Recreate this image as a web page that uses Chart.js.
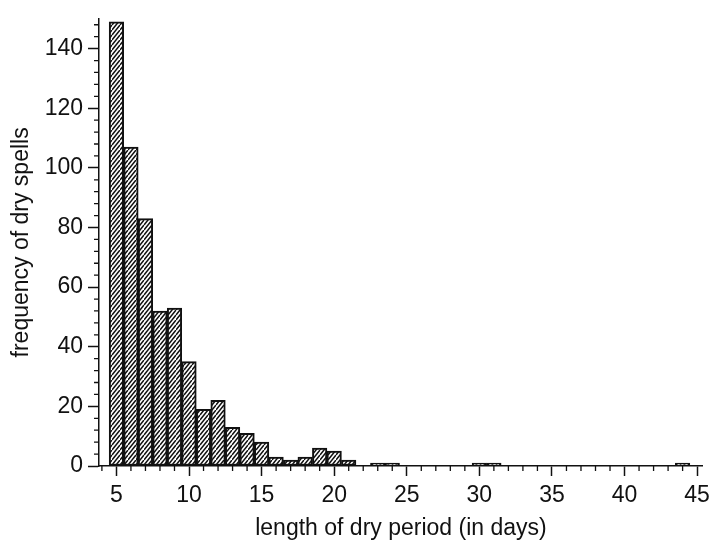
<!DOCTYPE html>
<html>
<head>
<meta charset="utf-8">
<script src="https://cdn.jsdelivr.net/npm/chart.js@4/dist/chart.umd.min.js"></script>
<style>
  html, body { margin: 0; padding: 0; background: #fff; }
  #wrap { width: 716px; height: 542px; }
</style>
</head>
<body>
<div id="wrap"><canvas id="histChart" width="716" height="542"></canvas></div>
<script>
// ==========================
// Data
// ==========================
const LENGTHS = [5, 6, 7, 8, 9, 10, 11, 12, 13, 14, 15, 16, 17, 18, 19, 20, 21, 22, 23, 24,
                 25, 26, 27, 28, 29, 30, 31, 32, 33, 34, 35, 36, 37, 38, 39, 40, 41, 42, 43, 44];
const FREQUENCIES = [149, 107, 83, 52, 53, 35, 19, 22, 13, 11, 8, 3, 2, 3, 6, 5, 2, 0, 1, 1,
                     0, 0, 0, 0, 0, 1, 1, 0, 0, 0, 0, 0, 0, 0, 0, 0, 0, 0, 0, 1];
const X_TICKS = [5, 10, 15, 20, 25, 30, 35, 40, 45];
const Y_TICKS = [0, 20, 40, 60, 80, 100, 120, 140];

const INK = "#111";
const FONT = { family: "'Liberation Sans', Arial, Helvetica, sans-serif", size: 23 };

// ==========================
// Hatch pattern "////"
// ==========================
function makeHatch() {
  const c = document.createElement("canvas");
  c.width = 8; c.height = 10;
  const g = c.getContext("2d");
  g.fillStyle = "#fff";
  g.fillRect(0, 0, 8, 10);
  g.strokeStyle = INK;
  g.lineWidth = 1.5;
  g.beginPath();
  [0, 5, 10, 15].forEach(k => { g.moveTo(0, k); g.lineTo(8, k - 10); });
  g.stroke();
  return g.createPattern(c, "repeat");
}

// minor ticks are not built into Chart.js, draw them from the scales
const minorTicks = {
  id: "minorTicks",
  afterDraw(chart) {
    const { ctx, scales: { x, y } } = chart;
    ctx.save();
    ctx.strokeStyle = INK;
    ctx.lineWidth = 1.3;
    ctx.beginPath();
    for (let v = 4; v <= 45; v++) {
      if (v % 5 === 0) continue;
      const px = x.getPixelForValue(v);
      ctx.moveTo(px, x.top);
      ctx.lineTo(px, x.top + 5);
    }
    for (let v = 4; v < 150; v += 4) {
      if (v % 20 === 0) continue;
      const py = y.getPixelForValue(v);
      ctx.moveTo(y.right, py);
      ctx.lineTo(y.right - 5, py);
    }
    ctx.stroke();
    ctx.restore();
  }
};

const ctx = document.getElementById("histChart").getContext("2d");
new Chart(ctx, {
  type: "bar",
  data: {
    datasets: [{
      data: LENGTHS.map((len, i) => ({ x: len, y: FREQUENCIES[i] })),
      backgroundColor: makeHatch(),
      borderColor: INK,
      borderWidth: 2,
      borderSkipped: false,
      barPercentage: 1,
      categoryPercentage: 1
    }]
  },
  options: {
    responsive: false,
    animation: false,
    layout: { padding: { top: 12, right: 9, left: 0, bottom: 0 } },
    plugins: { legend: { display: false }, tooltip: { enabled: false } },
    scales: {
      x: {
        type: "linear",
        min: 3.8,
        max: 45.4,
        offset: false,
        afterBuildTicks: s => { s.ticks = X_TICKS.map(v => ({ value: v })); },
        afterFit: s => { s.height = 76; },
        grid: { offset: false, drawOnChartArea: false, tickLength: 10, tickColor: INK, tickWidth: 1.5 },
        border: { display: true, color: INK, width: 1.5 },
        ticks: { color: INK, font: FONT, padding: 6, maxRotation: 0, autoSkip: false },
        title: { display: true, text: "length of dry period (in days)", color: INK,
                 font: { ...FONT, lineHeight: 1.15 }, padding: { top: 0, bottom: 0 } }
      },
      y: {
        min: 0,
        max: 150,
        afterBuildTicks: s => { s.ticks = Y_TICKS.map(v => ({ value: v })); },
        afterFit: s => { s.width = 99; },
        grid: { drawOnChartArea: false, tickLength: 11, tickColor: INK, tickWidth: 1.5 },
        border: { display: true, color: INK, width: 1.5 },
        ticks: { color: INK, font: FONT, padding: 5 },
        title: { display: true, text: "frequency of dry spells", color: INK,
                 font: { ...FONT, lineHeight: 1.2 }, padding: { top: 8, bottom: 0 } }
      }
    }
  },
  plugins: [minorTicks]
});
</script>
</body>
</html>
